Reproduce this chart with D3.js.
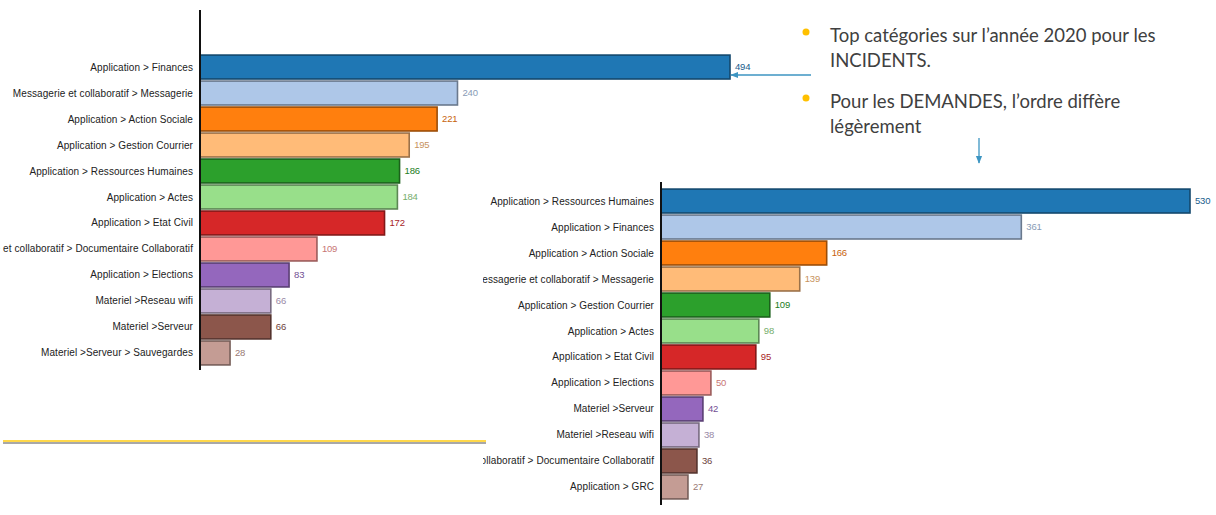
<!DOCTYPE html>
<html>
<head>
<meta charset="utf-8">
<script src="https://cdn.jsdelivr.net/npm/d3@7"></script>
<style>
  body { margin: 0; background: #fff; }
  svg { display: block; }
  .cat { font-family: "Liberation Sans", Arial, sans-serif; font-size: 10px; fill: #222; letter-spacing: 0.08px; }
  .val { font-family: "Liberation Sans", Arial, sans-serif; font-size: 9.5px; letter-spacing: -0.2px; }
  .note { font-family: Lato, "Open Sans", sans-serif; font-size: 18.5px; fill: #404040; }
</style>
</head>
<body>
<div id="slide"></div>
<script>
// incidents 2020
var incidentCats = [
  "Application > Finances",
  "Messagerie et collaboratif > Messagerie",
  "Application > Action Sociale",
  "Application > Gestion Courrier",
  "Application > Ressources Humaines",
  "Application > Actes",
  "Application > Etat Civil",
  "Messagerie et collaboratif > Documentaire Collaboratif",
  "Application > Elections",
  "Materiel >Reseau wifi",
  "Materiel >Serveur",
  "Materiel >Serveur > Sauvegardes"
];
var incidentVals = [494, 240, 221, 195, 186, 184, 172, 109, 83, 66, 66, 28];

// demandes 2020
var demandeCats = [
  "Application > Ressources Humaines",
  "Application > Finances",
  "Application > Action Sociale",
  "Messagerie et collaboratif > Messagerie",
  "Application > Gestion Courrier",
  "Application > Actes",
  "Application > Etat Civil",
  "Application > Elections",
  "Materiel >Serveur",
  "Materiel >Reseau wifi",
  "Messagerie et collaboratif > Documentaire Collaboratif",
  "Application > GRC"
];
var demandeVals = [530, 361, 166, 139, 109, 98, 95, 50, 42, 38, 36, 27];

var notes = [
  ["Top catégories sur l\u2019année 2020 pour les", "INCIDENTS."],
  ["Pour les DEMANDES, l\u2019ordre diffère", "légèrement"]
];

var W = 1216, H = 515;
// category20 colours, one per rank
var cat20 = ["#1f77b4","#aec7e8","#ff7f0e","#ffbb78","#2ca02c","#98df8a",
             "#d62728","#ff9896","#9467bd","#c5b0d5","#8c564b","#c49c94"];

var svg = d3.select("#slide").append("svg")
  .attr("width", W).attr("height", H);

var defs = svg.append("defs");
defs.append("clipPath").attr("id", "clipRight")
  .append("rect").attr("x", 483).attr("y", 170).attr("width", W - 483).attr("height", H - 170);
defs.append("marker")
  .attr("id", "arrow").attr("viewBox", "0 0 10 10")
  .attr("refX", 9).attr("refY", 5)
  .attr("markerWidth", 6).attr("markerHeight", 6)
  .attr("orient", "auto-start-reverse")
  .append("path").attr("d", "M0,1 L10,5 L0,9 Z").attr("fill", "#3d95c2");

// draw one horizontal bar chart
function barChart(g, cats, vals, x0, x1, maxV, y0, y1, axisTop, axisBottom) {
  var x = d3.scaleLinear().domain([0, maxV]).range([x0, x1]);
  var y = d3.scaleBand().domain(cats).range([y0, y1]).padding(0.08);
  var color = d3.scaleOrdinal().domain(cats).range(cat20);

  var rows = g.selectAll(".row").data(cats.map(function (c, i) { return {c: c, v: vals[i]}; }))
    .enter().append("g").attr("class", "row");

  rows.append("rect")
    .attr("x", x(0))
    .attr("y", function (d) { return y(d.c); })
    .attr("width", function (d) { return x(d.v) - x(0); })
    .attr("height", y.bandwidth())
    .attr("fill", function (d) { return color(d.c); })
    .attr("stroke", function (d) { return d3.color(color(d.c)).darker(1.4); })
    .attr("stroke-width", 1.6);

  rows.append("text")
    .attr("class", "cat")
    .attr("x", x(0) - 7)
    .attr("y", function (d) { return y(d.c) + y.bandwidth() / 2; })
    .attr("dy", "0.35em")
    .attr("text-anchor", "end")
    .text(function (d) { return d.c; });

  rows.append("text")
    .attr("class", "val")
    .attr("x", function (d) { return x(d.v) + 5; })
    .attr("y", function (d) { return y(d.c) + y.bandwidth() / 2; })
    .attr("dy", "0.35em")
    .attr("fill", function (d) { return d3.color(color(d.c)).darker(0.7); })
    .text(function (d) { return d.v; });

  g.append("line")
    .attr("x1", x(0)).attr("x2", x(0))
    .attr("y1", axisTop).attr("y2", axisBottom)
    .attr("stroke", "#111").attr("stroke-width", 2);
}

barChart(svg.append("g"), incidentCats, incidentVals, 200, 730, 494, 53, 367, 10, 370);
barChart(svg.append("g").attr("clip-path", "url(#clipRight)"),
  demandeCats, demandeVals, 661, 1190, 530, 187, 501, 182, 505);

// yellow rule under the left chart
svg.append("line").attr("x1", 3).attr("x2", 486).attr("y1", 443).attr("y2", 443)
  .attr("stroke", "#a8a8a8").attr("stroke-width", 2);
svg.append("line").attr("x1", 3).attr("x2", 486).attr("y1", 441).attr("y2", 441)
  .attr("stroke", "#ffd84a").attr("stroke-width", 2);

// notes with bullets
var noteTop = [42, 108];
notes.forEach(function (lines, i) {
  svg.append("circle").attr("cx", 806).attr("cy", noteTop[i] - 10).attr("r", 3.5).attr("fill", "#ffc000");
  lines.forEach(function (t, j) {
    svg.append("text").attr("class", "note")
      .attr("x", 830).attr("y", noteTop[i] + j * 25).text(t);
  });
});

// arrows
svg.append("line").attr("x1", 811).attr("x2", 731).attr("y1", 75).attr("y2", 75)
  .attr("stroke", "#3d95c2").attr("stroke-width", 1.3).attr("marker-end", "url(#arrow)");
svg.append("line").attr("x1", 979).attr("x2", 979).attr("y1", 138).attr("y2", 163)
  .attr("stroke", "#3d95c2").attr("stroke-width", 1.3).attr("marker-end", "url(#arrow)");
</script>
</body>
</html>
